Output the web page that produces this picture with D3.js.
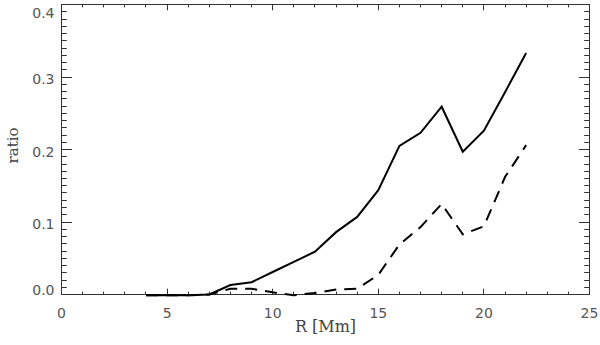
<!DOCTYPE html>
<html>
<head>
<meta charset="utf-8">
<script src="https://cdn.jsdelivr.net/npm/d3@7"></script>
<style>
  body { margin: 0; background: #fff; }
</style>
</head>
<body>
<svg id="chart"></svg>
<script>
const radius = [4, 5, 6, 7, 8, 9, 10, 11, 12, 13, 14, 15, 16, 17, 18, 19, 20, 21, 22]
const solidRatio = [-0.001, -0.001, -0.001, 0.0, 0.013, 0.017, 0.031, 0.045, 0.059, 0.086, 0.107, 0.144, 0.205, 0.223, 0.259, 0.197, 0.226, 0.279, 0.333]
const dashedRatio = [-0.001, -0.001, -0.001, 0.0, 0.008, 0.008, 0.003, -0.001, 0.002, 0.007, 0.008, 0.027, 0.069, 0.093, 0.125, 0.083, 0.094, 0.162, 0.206]
const xTicks = [0, 5, 10, 15, 20, 25]
const yTicks = [0.0, 0.1, 0.2, 0.3, 0.4]
const xMinor = d3.range(0, 26, 1)
const yMinor = d3.range(0, 41, 1).map(d => d / 100)

const margin = { top: 4.5, right: 10.5, bottom: 50.5, left: 61.5 }
const width = 600 - margin.left - margin.right
const height = 345 - margin.top - margin.bottom

const svg = d3.select("#chart")
  .attr("width", 600)
  .attr("height", 345)

const chart = svg.append("g")
  .attr("transform", `translate(${margin.left},${margin.top})`)

const x = d3.scaleLinear().domain([0, 25]).range([0, width])
const y = d3.scaleLinear().domain([0, 0.4]).range([height, 0])

const axisColor = "#333"
const labelFont = "'DejaVu Sans', sans-serif"
const titleFont = "'DejaVu Serif', serif"

// ticks pointing inward on all four sides, IDL style
function xTickMarks(yPos, dir) {
  chart.append("g").selectAll("line")
    .data(xMinor)
    .enter().append("line")
    .attr("x1", d => Math.round(x(d)))
    .attr("x2", d => Math.round(x(d)))
    .attr("y1", yPos)
    .attr("y2", d => yPos + dir * (d % 5 === 0 ? 5.8 : 2.9))
    .style("stroke", axisColor)
    .style("stroke-width", 1)
}

function yTickMarks(xPos, dir) {
  chart.append("g").selectAll("line")
    .data(yMinor)
    .enter().append("line")
    .attr("y1", d => Math.round(y(d)))
    .attr("y2", d => Math.round(y(d)))
    .attr("x1", xPos)
    .attr("x2", d => xPos + dir * (Math.round(d * 100) % 10 === 0 ? 10.5 : 5.3))
    .style("stroke", axisColor)
    .style("stroke-width", 1)
}

xTickMarks(height, -1)
xTickMarks(0, 1)
yTickMarks(0, 1)
yTickMarks(width, -1)

// frame
chart.append("rect")
  .attr("width", width)
  .attr("height", height)
  .style("fill", "none")
  .style("stroke", axisColor)
  .style("stroke-width", 1)

// tick labels
chart.append("g").selectAll("text")
  .data(xTicks)
  .enter().append("text")
  .attr("x", d => x(d))
  .attr("y", height + 23.5)
  .style("text-anchor", "middle")
  .style("font-family", labelFont)
  .style("font-size", "14px")
  .style("fill", "#555")
  .text(d => d)

// end labels are nudged inward so they stay inside the frame height
chart.append("g").selectAll("text")
  .data(yTicks)
  .enter().append("text")
  .attr("x", -7)
  .attr("y", d => y(d) + (d === 0.4 ? 8 : d === 0 ? -4.5 : 2))
  .attr("dy", "0.36em")
  .style("text-anchor", "end")
  .style("font-family", labelFont)
  .style("font-size", "14px")
  .style("fill", "#555")
  .text(d => d.toFixed(1))

// axis titles
chart.append("text")
  .attr("x", width / 2)
  .attr("y", height + 37.5)
  .style("text-anchor", "middle")
  .style("font-family", titleFont)
  .style("font-size", "16px")
  .style("fill", "#444")
  .text("R [Mm]")

chart.append("text")
  .attr("transform", `translate(${-43.5}, ${height / 2 - 4}) rotate(-90)`)
  .style("text-anchor", "middle")
  .style("font-family", titleFont)
  .style("font-size", "15px")
  .style("fill", "#444")
  .text("ratio")

// series
const line = d3.line()
  .x((d, i) => x(radius[i]))
  .y(d => y(d))

chart.append("path")
  .datum(solidRatio)
  .attr("d", line)
  .style("fill", "none")
  .style("stroke", "#000")
  .style("stroke-width", 2)

chart.append("path")
  .datum(dashedRatio)
  .attr("d", line)
  .style("fill", "none")
  .style("stroke", "#000")
  .style("stroke-width", 2)
  .style("stroke-dasharray", "12,8")
</script>
</body>
</html>
